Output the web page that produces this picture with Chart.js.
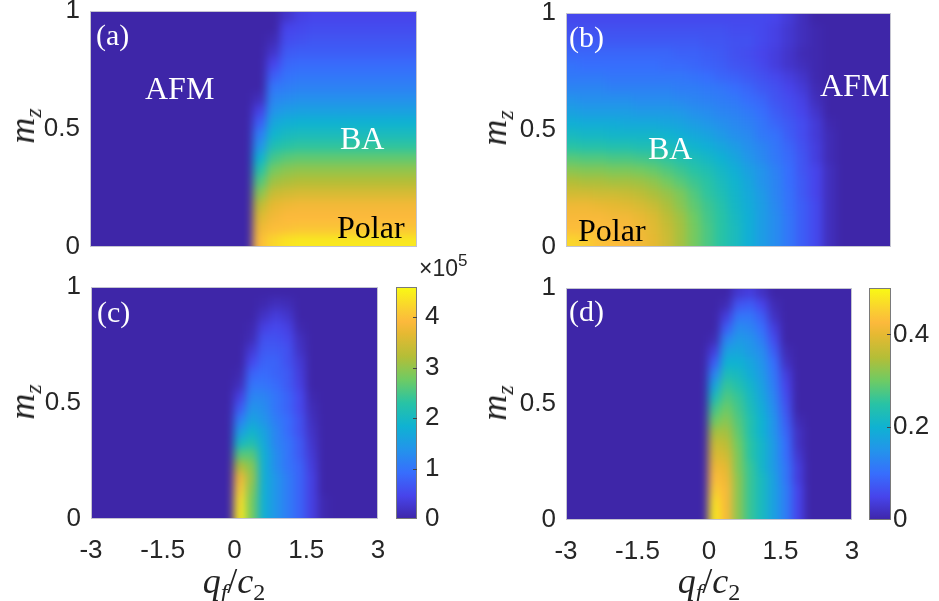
<!DOCTYPE html>
<html>
<head>
<meta charset="utf-8">
<title>Phase diagram panels</title>
<script src="https://cdn.jsdelivr.net/npm/chart.js@4.4.1/dist/chart.umd.min.js"></script>
<style>
  html, body { margin: 0; padding: 0; background: #fff; }
  #page { position: relative; width: 939px; height: 601px; overflow: hidden; }
  canvas { position: absolute; }
  .txt { position: absolute; font-family: "Liberation Serif", "Times New Roman", serif; font-size: 32px; line-height: 1; white-space: nowrap; }
  .tag { font-size: 30px; }
  .white { color: #fff; }
  .black { color: #000; }
  .axlab { position: absolute; font-family: "Liberation Serif", "Times New Roman", serif; font-size: 36px; line-height: 1; white-space: nowrap; color: #222; transform: translate(-50%, -50%); }
  .axlab.rot { transform: translate(-50%, -50%) rotate(-90deg); }
  .axlab sub { font-size: 24px; vertical-align: -0.3em; line-height: 0; }
  #mult { position: absolute; left: 419px; top: 257px; font-family: "Liberation Sans", Arial, sans-serif; font-size: 23px; line-height: 1; color: #262626; white-space: nowrap; }
  #mult span { font-size: 17px; position: relative; top: -10px; }
</style>
</head>
<body>
<div id="page">
  <canvas id="panelA"></canvas>
  <canvas id="panelB"></canvas>
  <canvas id="panelC"></canvas>
  <canvas id="panelD"></canvas>
  <canvas id="cbarC"></canvas>
  <canvas id="cbarD"></canvas>

  <div class="txt tag white" style="left:96px;top:20px">(a)</div>
  <div class="txt tag white" style="left:569px;top:22px">(b)</div>
  <div class="txt tag white" style="left:97px;top:297px">(c)</div>
  <div class="txt tag white" style="left:569px;top:296px">(d)</div>

  <div class="txt white" style="left:145px;top:72px">AFM</div>
  <div class="txt white" style="left:340px;top:122px">BA</div>
  <div class="txt black" style="left:337px;top:211px">Polar</div>
  <div class="txt white" style="left:648px;top:132px">BA</div>
  <div class="txt white" style="left:820px;top:69px">AFM</div>
  <div class="txt black" style="left:578px;top:214px">Polar</div>

  <div class="axlab rot" style="left:22px;top:126px"><i>m</i><sub><i>z</i></sub></div>
  <div class="axlab rot" style="left:494px;top:128px"><i>m</i><sub><i>z</i></sub></div>
  <div class="axlab rot" style="left:22px;top:402px"><i>m</i><sub><i>z</i></sub></div>
  <div class="axlab rot" style="left:494px;top:403px"><i>m</i><sub><i>z</i></sub></div>
  <div class="axlab" style="left:234px;top:581px"><i>q</i><sub><i>f</i></sub>/<i>c</i><sub>2</sub></div>
  <div class="axlab" style="left:709px;top:581px"><i>q</i><sub><i>f</i></sub>/<i>c</i><sub>2</sub></div>

  <div id="mult">&times;10<span>5</span></div>
</div>

<script>
// grid of the maps: cell centres along q_f/c_2 and m_z
const qfCols = [-2.875, -2.625, -2.375, -2.125, -1.875, -1.625, -1.375, -1.125, -0.875, -0.625, -0.375, -0.125,
                0.125, 0.375, 0.625, 0.875, 1.125, 1.375, 1.625, 1.875, 2.125, 2.375, 2.625, 2.875];
const mzRows = [0.025, 0.075, 0.125, 0.175, 0.225, 0.275, 0.325, 0.375, 0.425, 0.475,
                0.525, 0.575, 0.625, 0.675, 0.725, 0.775, 0.825, 0.875, 0.925, 0.975];

const xTicks = [-3, -1.5, 0, 1.5, 3];
const yTicks = [0, 0.5, 1];
const cbarTicksC = [0, 1, 2, 3, 4];
const cbarTicksD = [0, 0.2, 0.4];
const cbarMaxC = 4.6;   // x 10^5
const cbarMaxD = 0.5;

// (a) and (b): percent of the colour range; rows go from m_z = 0 upwards
const valuesA = [
  [0,0,0,0,0,0,0,0,0,0,0,0,86,92,95,96,96,96,96,96,96,96,96,96],
  [0,0,0,0,0,0,0,0,0,0,0,0,82,86,87,88,88,88,88,88,88,88,88,88],
  [0,0,0,0,0,0,0,0,0,0,0,0,78,83,85,85,85,85,85,85,85,85,85,85],
  [0,0,0,0,0,0,0,0,0,0,0,0,72,80,82,83,83,83,83,83,83,83,83,83],
  [0,0,0,0,0,0,0,0,0,0,0,0,64,74,76,77,77,77,77,77,77,77,77,77],
  [0,0,0,0,0,0,0,0,0,0,0,0,56,67,69,70,70,70,70,70,70,70,70,70],
  [0,0,0,0,0,0,0,0,0,0,0,0,49,61,64,65,65,65,65,65,65,65,65,65],
  [0,0,0,0,0,0,0,0,0,0,0,0,40,54,57,58,58,58,58,58,58,58,58,58],
  [0,0,0,0,0,0,0,0,0,0,0,0,30,47,50,51,51,51,51,51,51,51,51,51],
  [0,0,0,0,0,0,0,0,0,0,0,0,24,41,44,45,45,45,45,45,45,45,45,45],
  [0,0,0,0,0,0,0,0,0,0,0,0,16,36,39,40,40,40,40,40,40,40,40,40],
  [0,0,0,0,0,0,0,0,0,0,0,0,9,30,33,34,34,34,34,34,34,34,34,34],
  [0,0,0,0,0,0,0,0,0,0,0,0,3,26,28,29,29,29,29,29,29,29,29,29],
  [0,0,0,0,0,0,0,0,0,0,0,0,0,22,24,25,25,25,25,25,25,25,25,25],
  [0,0,0,0,0,0,0,0,0,0,0,0,0,16,21,22,22,22,22,22,22,22,22,22],
  [0,0,0,0,0,0,0,0,0,0,0,0,0,10,18,19,19,19,19,19,19,19,19,19],
  [0,0,0,0,0,0,0,0,0,0,0,0,0,5,15,16,16,16,16,16,16,16,16,16],
  [0,0,0,0,0,0,0,0,0,0,0,0,0,2,12,13,14,14,14,14,14,14,14,14],
  [0,0,0,0,0,0,0,0,0,0,0,0,0,0,10,11,12,12,12,12,12,12,12,12],
  [0,0,0,0,0,0,0,0,0,0,0,0,0,0,5,9,10,10,10,10,10,10,10,10]
];

const valuesB = [
  [92,90,87,86,85,83,80,75,68,61,55,50,45,39,33,28,22,16,11,3,0,0,0,0],
  [86,86,86,85,84,82,79,74,68,61,55,50,45,39,33,28,22,16,11,3,0,0,0,0],
  [84,84,84,83,83,81,78,72,67,60,54,50,44,39,33,28,22,16,11,3,0,0,0,0],
  [82,82,81,80,79,77,74,69,64,58,53,49,43,38,33,27,21,16,11,3,0,0,0,0],
  [76,76,75,75,74,72,69,66,62,56,51,47,42,37,32,26,21,15,10,3,0,0,0,0],
  [70,69,69,68,68,67,65,61,57,53,50,45,41,36,30,26,20,15,10,3,0,0,0,0],
  [64,63,63,62,62,61,59,56,53,50,47,43,39,34,30,25,20,14,10,3,0,0,0,0],
  [57,56,56,55,55,54,53,51,48,46,43,40,36,31,27,23,19,14,8,2,0,0,0,0],
  [50,49,49,48,48,47,47,45,44,41,39,36,33,29,26,22,18,13,8,2,0,0,0,0],
  [44,43,43,42,42,42,42,41,39,37,35,32,29,27,23,21,16,12,7,2,0,0,0,0],
  [39,38,38,38,37,37,37,36,35,33,31,29,27,25,22,18,15,12,7,1,0,0,0,0],
  [34,33,33,33,33,32,32,32,31,29,28,26,25,23,20,16,13,10,5,0,0,0,0,0],
  [30,29,29,29,29,28,28,28,27,26,25,24,23,20,18,14,12,9,3,0,0,0,0,0],
  [26,26,26,25,25,25,25,25,24,24,23,22,20,18,15,13,10,7,2,0,0,0,0,0],
  [23,23,23,22,22,22,22,22,22,21,20,18,17,15,13,11,8,5,1,0,0,0,0,0],
  [21,20,20,20,20,20,20,19,19,18,17,16,14,13,11,8,5,3,1,0,0,0,0,0],
  [18,18,18,18,18,18,18,18,17,17,16,15,13,12,10,8,5,2,1,0,0,0,0,0],
  [15,15,15,15,15,15,15,15,15,15,14,14,13,13,11,9,6,3,1,0,0,0,0,0],
  [13,13,13,13,13,13,13,13,13,13,13,13,12,12,11,9,6,3,1,0,0,0,0,0],
  [11,11,11,11,11,11,11,11,11,11,11,11,11,11,11,10,7,3,0,0,0,0,0,0]
];

// (c): values in units of 10^5
const valuesC = [
  [0,0,0,0,0,0,0,0,0,0,0,0,4.4,2.8,1.8,1.4,1.1,0.8,0.4,0.05,0,0,0,0],
  [0,0,0,0,0,0,0,0,0,0,0,0,4.3,2.8,1.8,1.4,1.1,0.8,0.4,0.05,0,0,0,0],
  [0,0,0,0,0,0,0,0,0,0,0,0,4.1,2.9,1.8,1.4,1.1,0.8,0.4,0,0,0,0,0],
  [0,0,0,0,0,0,0,0,0,0,0,0,3.8,3.0,1.8,1.4,1.1,0.8,0.4,0,0,0,0,0],
  [0,0,0,0,0,0,0,0,0,0,0,0,3.2,2.9,1.8,1.3,1.0,0.8,0.35,0,0,0,0,0],
  [0,0,0,0,0,0,0,0,0,0,0,0,2.6,2.6,1.8,1.3,1.0,0.7,0.3,0,0,0,0,0],
  [0,0,0,0,0,0,0,0,0,0,0,0,2.0,2.2,1.7,1.2,1.0,0.7,0.25,0,0,0,0,0],
  [0,0,0,0,0,0,0,0,0,0,0,0,1.5,1.9,1.6,1.2,0.9,0.6,0.2,0,0,0,0,0],
  [0,0,0,0,0,0,0,0,0,0,0,0,1.1,1.6,1.4,1.1,0.9,0.6,0.15,0,0,0,0,0],
  [0,0,0,0,0,0,0,0,0,0,0,0,0.7,1.4,1.3,1.0,0.8,0.5,0.1,0,0,0,0,0],
  [0,0,0,0,0,0,0,0,0,0,0,0,0.4,1.2,1.2,1.0,0.8,0.5,0.05,0,0,0,0,0],
  [0,0,0,0,0,0,0,0,0,0,0,0,0.15,1.0,1.0,0.9,0.7,0.4,0,0,0,0,0,0],
  [0,0,0,0,0,0,0,0,0,0,0,0,0.05,0.8,0.9,0.8,0.7,0.35,0,0,0,0,0,0],
  [0,0,0,0,0,0,0,0,0,0,0,0,0,0.5,0.8,0.8,0.6,0.3,0,0,0,0,0,0],
  [0,0,0,0,0,0,0,0,0,0,0,0,0,0.3,0.7,0.7,0.6,0.2,0,0,0,0,0,0],
  [0,0,0,0,0,0,0,0,0,0,0,0,0,0.1,0.6,0.6,0.5,0.15,0,0,0,0,0,0],
  [0,0,0,0,0,0,0,0,0,0,0,0,0,0.05,0.4,0.5,0.4,0.05,0,0,0,0,0,0],
  [0,0,0,0,0,0,0,0,0,0,0,0,0,0,0.2,0.35,0.25,0,0,0,0,0,0,0],
  [0,0,0,0,0,0,0,0,0,0,0,0,0,0,0.05,0.15,0.1,0,0,0,0,0,0,0],
  [0,0,0,0,0,0,0,0,0,0,0,0,0,0,0,0,0,0,0,0,0,0,0,0]
];

// (d)
const valuesD = [
  [0,0,0,0,0,0,0,0,0,0,0,0,0.48,0.42,0.32,0.26,0.22,0.17,0.12,0.05,0,0,0,0],
  [0,0,0,0,0,0,0,0,0,0,0,0,0.47,0.42,0.32,0.26,0.22,0.17,0.12,0.05,0,0,0,0],
  [0,0,0,0,0,0,0,0,0,0,0,0,0.45,0.42,0.32,0.26,0.22,0.17,0.12,0.05,0,0,0,0],
  [0,0,0,0,0,0,0,0,0,0,0,0,0.43,0.41,0.32,0.26,0.22,0.17,0.11,0.04,0,0,0,0],
  [0,0,0,0,0,0,0,0,0,0,0,0,0.41,0.40,0.31,0.26,0.21,0.16,0.11,0.04,0,0,0,0],
  [0,0,0,0,0,0,0,0,0,0,0,0,0.39,0.38,0.31,0.25,0.21,0.16,0.10,0.03,0,0,0,0],
  [0,0,0,0,0,0,0,0,0,0,0,0,0.37,0.36,0.30,0.25,0.21,0.16,0.10,0.02,0,0,0,0],
  [0,0,0,0,0,0,0,0,0,0,0,0,0.34,0.34,0.29,0.24,0.20,0.15,0.09,0.02,0,0,0,0],
  [0,0,0,0,0,0,0,0,0,0,0,0,0.30,0.32,0.28,0.24,0.20,0.15,0.08,0.01,0,0,0,0],
  [0,0,0,0,0,0,0,0,0,0,0,0,0.27,0.30,0.27,0.23,0.19,0.14,0.07,0,0,0,0,0],
  [0,0,0,0,0,0,0,0,0,0,0,0,0.23,0.28,0.26,0.22,0.18,0.13,0.06,0,0,0,0,0],
  [0,0,0,0,0,0,0,0,0,0,0,0,0.18,0.26,0.24,0.21,0.17,0.12,0.05,0,0,0,0,0],
  [0,0,0,0,0,0,0,0,0,0,0,0,0.13,0.23,0.22,0.19,0.16,0.11,0.04,0,0,0,0,0],
  [0,0,0,0,0,0,0,0,0,0,0,0,0.08,0.20,0.20,0.18,0.15,0.10,0.02,0,0,0,0,0],
  [0,0,0,0,0,0,0,0,0,0,0,0,0.04,0.17,0.18,0.16,0.14,0.08,0.01,0,0,0,0,0],
  [0,0,0,0,0,0,0,0,0,0,0,0,0.01,0.13,0.16,0.15,0.12,0.06,0,0,0,0,0,0],
  [0,0,0,0,0,0,0,0,0,0,0,0,0,0.08,0.14,0.13,0.10,0.04,0,0,0,0,0,0],
  [0,0,0,0,0,0,0,0,0,0,0,0,0,0.04,0.11,0.11,0.08,0.02,0,0,0,0,0,0],
  [0,0,0,0,0,0,0,0,0,0,0,0,0,0.01,0.07,0.08,0.05,0.01,0,0,0,0,0,0],
  [0,0,0,0,0,0,0,0,0,0,0,0,0,0,0.03,0.04,0.02,0,0,0,0,0,0,0]
];

// parula-like colormap stops: position, r, g, b
const parula = [
  [0.00, 62, 38, 168],
  [0.10, 71, 68, 235],
  [0.20, 55, 110, 253],
  [0.30, 35, 148, 235],
  [0.40, 15, 178, 210],
  [0.50, 40, 195, 165],
  [0.60, 110, 203, 100],
  [0.70, 180, 190, 55],
  [0.80, 230, 185, 50],
  [0.85, 252, 185, 60],
  [0.90, 250, 205, 50],
  [1.00, 249, 250, 20]
];

function parulaColor(t) {
  t = Math.max(0, Math.min(1, t));
  for (let i = 1; i < parula.length; i++) {
    if (t <= parula[i][0]) {
      const a = parula[i - 1], b = parula[i];
      const f = (t - a[0]) / (b[0] - a[0]);
      const c = [1, 2, 3].map(k => Math.round(a[k] + (b[k] - a[k]) * f));
      return `rgb(${c[0]},${c[1]},${c[2]})`;
    }
  }
  return 'rgb(249,250,20)';
}

function heatDatasets(rows, vmax) {
  const half = (mzRows[1] - mzRows[0]) / 2;
  return mzRows.map((mz, r) => ({
    data: qfCols.map(q => ({ x: q, y: [mz - half, mz + half] })),
    backgroundColor: rows[r].map(v => parulaColor(v / vmax)),
    borderWidth: 0,
    inflateAmount: 0.6,
    grouped: false,
    barPercentage: 1,
    categoryPercentage: 1
  }));
}

const tickFont = { family: '"Liberation Sans", Arial, sans-serif', size: 26 };
const tickColor = '#262626';

// soften the cell edges like an interpolated surface plot (edges are extended, not faded)
const smoothPlugin = {
  id: 'smooth',
  afterDatasetsDraw(chart, args, opts) {
    const a = chart.chartArea;
    const ctx = chart.ctx;
    const x0 = Math.round(a.left), y0 = Math.round(a.top);
    const W = Math.round(a.right) - x0, H = Math.round(a.bottom) - y0;
    const P = Math.ceil(opts.radius * 3) + 2;
    const off = document.createElement('canvas');
    off.width = W + 2 * P;
    off.height = H + 2 * P;
    const o = off.getContext('2d');
    o.drawImage(chart.canvas, x0, y0, W, H, P, P, W, H);
    o.drawImage(off, P, P, 1, H, 0, P, P, H);
    o.drawImage(off, P + W - 1, P, 1, H, P + W, P, P, H);
    o.drawImage(off, 0, P, W + 2 * P, 1, 0, 0, W + 2 * P, P);
    o.drawImage(off, 0, P + H - 1, W + 2 * P, 1, 0, P + H, W + 2 * P, P);
    ctx.save();
    ctx.beginPath();
    ctx.rect(x0, y0, W, H);
    ctx.clip();
    ctx.filter = `blur(${opts.radius}px)`;
    ctx.drawImage(off, x0 - P, y0 - P);
    ctx.restore();
  }
};

const boxPlugin = {
  id: 'box',
  afterDraw(chart, args, opts) {
    const a = chart.chartArea;
    const c = chart.ctx;
    c.save();
    c.strokeStyle = opts.color;
    c.lineWidth = 1;
    c.strokeRect(a.left + 0.5, a.top + 0.5, a.right - a.left - 1, a.bottom - a.top - 1);
    c.restore();
  }
};

const cbarTickPlugin = {
  id: 'cbarTicks',
  afterDraw(chart) {
    const a = chart.chartArea;
    const y = chart.scales.y;
    const c = chart.ctx;
    c.save();
    c.strokeStyle = '#444';
    c.lineWidth = 1;
    y.ticks.forEach(t => {
      if (t.value <= y.min || t.value >= y.max) return;
      const py = Math.round(y.getPixelForValue(t.value)) + 0.5;
      c.beginPath();
      c.moveTo(a.right - 4, py);
      c.lineTo(a.right, py);
      c.stroke();
    });
    c.restore();
  }
};

function fixedTicks(list) {
  return scale => { scale.ticks = list.map(v => ({ value: v })); };
}

function makePanel(id, plot, rows, vmax, showX) {
  const [l, t, r, b] = plot;
  const padL = 70, padT = 30, padR = 35, padB = 60, xAxisH = 40;
  const canvas = document.getElementById(id);
  canvas.width = r - l + padL + padR;
  canvas.height = b - t + padT + padB;
  canvas.style.left = (l - padL) + 'px';
  canvas.style.top = (t - padT) + 'px';

  new Chart(canvas, {
    type: 'bar',
    data: { datasets: heatDatasets(rows, vmax) },
    options: {
      responsive: false,
      animation: false,
      layout: { padding: { left: 0, top: padT, right: padR, bottom: showX ? padB - xAxisH : padB } },
      plugins: {
        legend: { display: false },
        tooltip: { enabled: false },
        smooth: { radius: 4 },
        box: { color: '#c4c4d0' }
      },
      scales: {
        x: {
          type: 'linear', min: -3, max: 3, offset: false, display: showX,
          grid: { display: false, drawTicks: false },
          border: { display: false },
          afterBuildTicks: fixedTicks(xTicks),
          afterFit: showX ? (s => { s.height = xAxisH; }) : undefined,
          ticks: { font: tickFont, color: tickColor, padding: 16, maxRotation: 0, autoSkip: false, callback: v => String(v) }
        },
        y: {
          type: 'linear', min: 0, max: 1,
          grid: { display: false, drawTicks: false },
          border: { display: false },
          afterBuildTicks: fixedTicks(yTicks),
          afterFit: s => { s.width = padL; },
          ticks: { font: tickFont, color: tickColor, padding: 10, autoSkip: false, callback: v => String(v) }
        }
      }
    },
    plugins: [smoothPlugin, boxPlugin]
  });
}

function makeColorbar(id, bar, vmax, ticks, labelPad) {
  const [l, t, r, b] = bar;
  const padL = 6, padT = 30, padB = 30, axisW = 52;
  const canvas = document.getElementById(id);
  canvas.width = r - l + padL + axisW;
  canvas.height = b - t + padT + padB;
  canvas.style.left = (l - padL) + 'px';
  canvas.style.top = (t - padT) + 'px';

  new Chart(canvas, {
    type: 'bar',
    data: {
      labels: [''],
      datasets: [{
        data: [[0, vmax]],
        backgroundColor: ctx => {
          const area = ctx.chart.chartArea;
          if (!area) return parulaColor(0.5);
          const g = ctx.chart.ctx.createLinearGradient(0, area.bottom, 0, area.top);
          parula.forEach(s => g.addColorStop(s[0], `rgb(${s[1]},${s[2]},${s[3]})`));
          return g;
        },
        borderWidth: 0,
        barPercentage: 1,
        categoryPercentage: 1
      }]
    },
    options: {
      responsive: false,
      animation: false,
      layout: { padding: { left: padL, top: padT, right: 0, bottom: padB } },
      plugins: {
        legend: { display: false },
        tooltip: { enabled: false },
        box: { color: '#7a7a7a' }
      },
      scales: {
        x: { display: false },
        y: {
          position: 'right', min: 0, max: vmax,
          grid: { display: false, drawTicks: false },
          border: { display: false },
          afterBuildTicks: fixedTicks(ticks),
          afterFit: s => { s.width = axisW; },
          ticks: { font: tickFont, color: tickColor, padding: labelPad, autoSkip: false, callback: v => String(v) }
        }
      }
    },
    plugins: [boxPlugin, cbarTickPlugin]
  });
}

makePanel('panelA', [90, 11, 417, 247], valuesA, 100, false);
makePanel('panelB', [566, 13, 891, 247], valuesB, 100, false);
makePanel('panelC', [91, 287, 378, 519], valuesC, cbarMaxC, true);
makePanel('panelD', [566, 288, 852, 520], valuesD, cbarMaxD, true);
makeColorbar('cbarC', [396, 287, 417, 519], cbarMaxC, cbarTicksC, 8);
makeColorbar('cbarD', [869, 288, 891, 520], cbarMaxD, cbarTicksD, 2);
</script>
</body>
</html>
